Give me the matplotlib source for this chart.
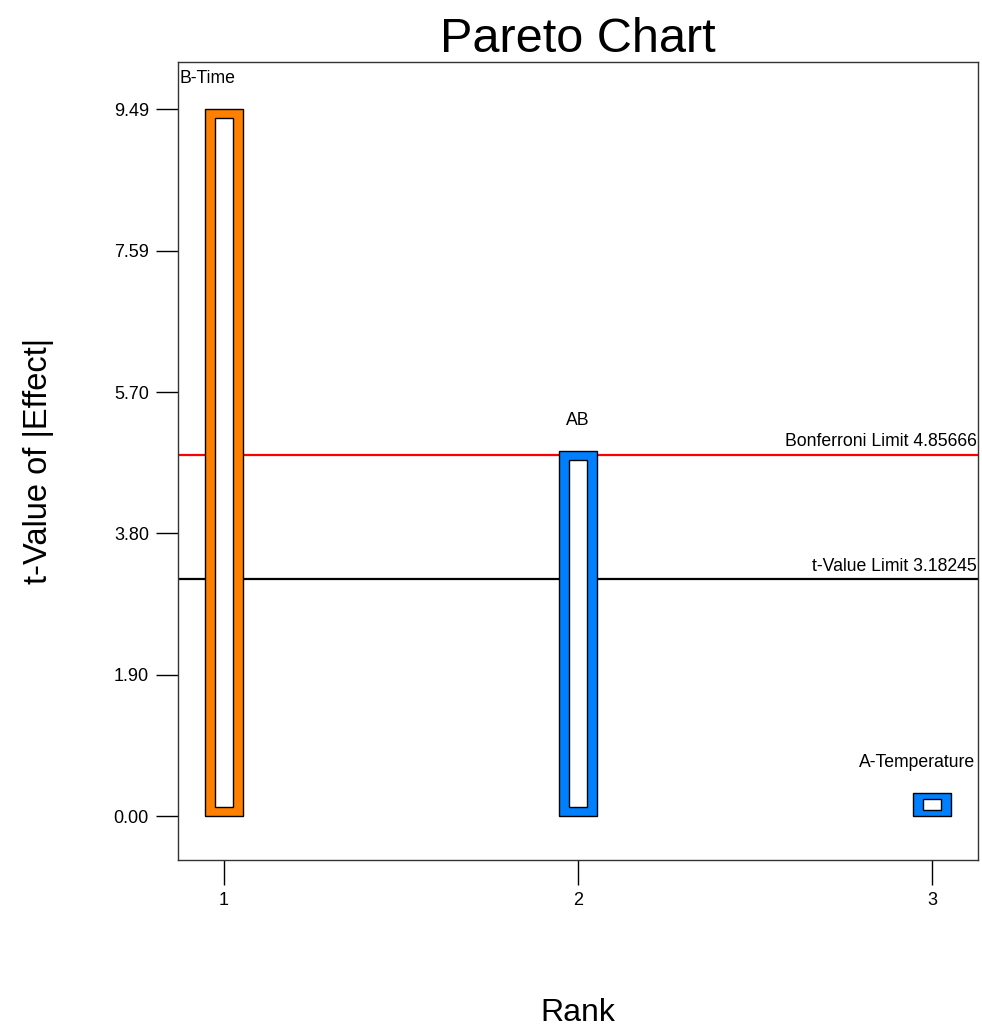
import matplotlib.pyplot as plt

plt.rcParams['font.family'] = ['Liberation Sans', 'DejaVu Sans']

# Data
ranks = [1, 2, 3]
terms = ['B-Time', 'AB', 'A-Temperature']
t_values = [9.493, 4.91, 0.31]
colors = ['#FF8000', '#0080FF', '#0080FF']
bonferroni = 4.85666
t_limit = 3.18245
yticks = [0.0, 1.898, 3.797, 5.696, 7.594, 9.493]
ytick_labels = ['0.00', '1.90', '3.80', '5.70', '7.59', '9.49']

fig = plt.figure(figsize=(9.82, 10.3), dpi=100)
ax = fig.add_axes([0.1813, 0.165, 0.8146, 0.7748])

width = 0.105
for r, v, c in zip(ranks, t_values, colors):
    ax.bar(r, v, width=width, color=c, edgecolor='black', linewidth=1, zorder=3)
    dx = 0.026
    dy = min(0.12, 0.25 * v)
    ax.bar(r, v - 2 * dy, width=width - 2 * dx, bottom=dy, color='white',
           edgecolor='black', linewidth=1, zorder=4)

fs = 12.7
# labels above bars
ax.annotate(terms[0], (0.87, t_values[0]), xytext=(1, 22), textcoords='offset points',
            ha='left', va='center', fontsize=fs)
ax.annotate(terms[1], (ranks[1], t_values[1]), xytext=(0, 22), textcoords='offset points',
            ha='center', va='center', fontsize=fs)
ax.annotate(terms[2], (3.13, t_values[2]), xytext=(-2, 22), textcoords='offset points',
            ha='right', va='center', fontsize=fs)

ax.axhline(bonferroni, color='#FF0000', linewidth=1.6, zorder=2)
ax.axhline(t_limit, color='black', linewidth=1.6, zorder=2)
ax.annotate('Bonferroni Limit %.5f' % bonferroni, (3.13, bonferroni), xytext=(-1, 3),
            textcoords='offset points', ha='right', va='bottom', fontsize=fs)
ax.annotate('t-Value Limit %.5f' % t_limit, (3.13, t_limit), xytext=(-1, 3),
            textcoords='offset points', ha='right', va='bottom', fontsize=fs)

ax.set_xlim(0.87, 3.13)
ax.set_ylim(-0.59, 10.13)
ax.set_xticks(ranks)
ax.set_xticklabels([str(r) for r in ranks])
ax.set_yticks(yticks)
ax.set_yticklabels(ytick_labels)
ax.tick_params(axis='both', direction='out', labelsize=13, width=1)
ax.tick_params(axis='y', length=16, pad=5)
ax.tick_params(axis='x', length=18, pad=5)
for s in ax.spines.values():
    s.set_color('#333333')
    s.set_linewidth(1)

ax.set_title('Pareto Chart', fontsize=35, pad=4)
ax.set_xlabel('Rank', fontsize=23, labelpad=64)
ax.set_ylabel('t-Value of |Effect|', fontsize=23.5, labelpad=43)

fig.savefig('out.png', dpi=100)
